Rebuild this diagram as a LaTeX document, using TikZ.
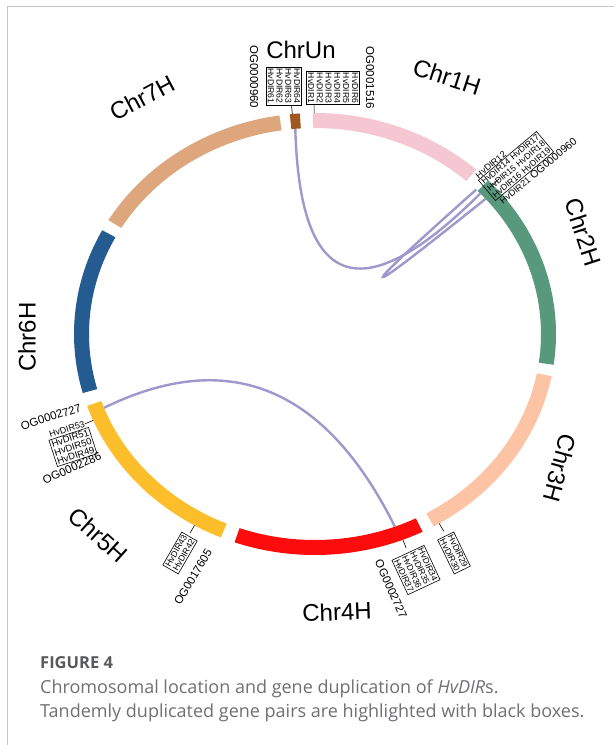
\documentclass[tikz,border=0pt]{standalone}
\usepackage{fontspec}
\setmainfont{Liberation Sans}
\newfontfamily\capfont{Open Sans}
\definecolor{cA}{RGB}{244,199,211}
\definecolor{cB}{RGB}{88,152,125}
\definecolor{cC}{RGB}{252,196,164}
\definecolor{cD}{RGB}{252,12,12}
\definecolor{cE}{RGB}{253,190,44}
\definecolor{cF}{RGB}{36,92,146}
\definecolor{cG}{RGB}{222,166,124}
\definecolor{cU}{RGB}{160,88,30}
\definecolor{lk}{RGB}{158,152,204}
\definecolor{capgray}{RGB}{112,112,116}
\definecolor{capdark}{RGB}{88,89,91}
\newcommand\chrseg[3]{\fill[#3] (#1:241 and 221) arc[start angle=#1,end angle=#2,x radius=241,y radius=221] -- (#2:226 and 206) arc[start angle=#2,end angle=#1,x radius=226,y radius=206] -- cycle;}
\newcommand\tickat[2]{\coordinate (#1a) at (#2:241 and 221); \coordinate (#1b) at (#2:250 and 230); \draw[line width=0.6pt] (#1a) -- (#1b);}
\tikzset{
  gl/.style={font=\fontsize{9}{9}\selectfont, inner sep=0pt},
  og/.style={font=\fontsize{11.5}{12}\selectfont, inner sep=0pt},
  gbox/.style={draw, line width=0.6pt, align=left, inner sep=1.5pt, font=\fontsize{8.6}{8.8}\selectfont},
  chrl/.style={font=\fontsize{24}{24}\selectfont, inner sep=0pt},
  link/.style={draw=lk, line width=2.4pt},
}
\begin{document}
\begin{tikzpicture}[x=1pt,y=-1pt]
\useasboundingbox (0,0) rectangle (614,745);
\fill[white] (0,0) rectangle (614,745);
\draw[black!22, line width=1pt] (7,745) -- (7,6) -- (614,6);
% ring
\begin{scope}[shift={(315,334)}, y=1pt]
  \chrseg{48}{90.5}{cA}
  \chrseg{93.6}{96}{cU}
  \chrseg{98.5}{149}{cG}
  \chrseg{152}{195.5}{cF}
  \chrseg{199}{247}{cE}
  \chrseg{250.5}{296.5}{cD}
  \chrseg{299.5}{349}{cC}
  \chrseg{352}{404}{cB}
  \tickat{tA}{95.4}
  \tickat{tB}{90.2}
  \tickat{tC}{42.5}
  \tickat{tD}{-59}
  \tickat{tE}{-68.6}
  \tickat{tF}{240}
  \tickat{tG}{203}
  \coordinate (eUn) at (95:226 and 206);
  \coordinate (e2a) at (43:226 and 206);
  \coordinate (e2b) at (44.5:226 and 206);
  \coordinate (e2c) at (41:226 and 206);
  \coordinate (e5) at (201:226 and 206);
  \coordinate (e4) at (-69.3:226 and 206);
\end{scope}
% links
\draw[link] (eUn) .. controls (299.7,290.3) and (361.4,311.8) .. (e2a);
\draw[link] (e2b) .. controls (348.8,303) and (351.9,306.1) .. (e2c);
\draw[link] (e5) .. controls (228.4,347.1) and (325.3,386.7) .. (e4);
% chromosome labels
\node[chrl] (lUn) at (301,50) {ChrUn};
\node[chrl, rotate=-18] (l1) at (447,77) {Chr1H};
\node[chrl, rotate=-72] (l2) at (583,232) {Chr2H};
\node[chrl, rotate=-105] (l3) at (560,468) {Chr3H};
\node[chrl, rotate=2] (l4) at (337,612) {Chr4H};
\node[chrl, rotate=-42] (l5) at (98,535) {Chr5H};
\node[chrl, rotate=90] (l6) at (27,337) {Chr6H};
\node[chrl, rotate=28] (l7) at (142,98) {Chr7H};
% gene labels: ChrUn / Chr1H
\node[gbox, rotate=-90] (bA) at (284,86) {HvDIR64\\HvDIR63\\HvDIR62\\HvDIR61};
\node[og, rotate=-90] (oA) at (254,77) {OG0000960};
\node[gbox, rotate=-90] (bB) at (333,88) {HvDIR6\\HvDIR5\\HvDIR4\\HvDIR3\\HvDIR2\\HvDIR1};
\node[og, rotate=-90] (oB) at (370,78) {OG0001516};
% Chr2H
\begin{scope}[shift={(516,166)}, rotate=40, y=1pt]
  \node[gbox, transform shape] (bC) at (0,0) {HvDIR14\hspace{3pt}HvDIR17\\HvDIR15\hspace{3pt}HvDIR18\\HvDIR16\hspace{3pt}HvDIR19};
  \node[gl, transform shape, anchor=west] (gC1) at (-37,17) {HvDIR12};
  \node[og, transform shape, anchor=west] (gC2) at (-35,-18) {{\fontsize{9}{9}\selectfont HvDIR21} {\fontsize{10.5}{11}\selectfont OG0000960}};
\end{scope}
% Chr3H / Chr4H
\node[gbox, rotate=-64] (bD) at (454,553) {HvDIR29\\HvDIR30};
\node[gbox, rotate=-65] (bE) at (416,570) {HvDIR34\\HvDIR35\\HvDIR36\\HvDIR37};
\node[og, rotate=-66] (oE) at (391,589) {OG0002727};
% Chr5H
\node[gbox, rotate=60] (bF) at (180,553) {HvDIR43\\HvDIR42};
\node[og, rotate=59] (oF) at (193,577) {OG0017605};
\node[og, rotate=18] (oG1) at (51,417) {OG0002727};
\node[gl, rotate=17] (gG) at (67,429) {HvDIR53};
\node[gbox, rotate=18, font=\fontsize{9.5}{9}\selectfont] (bG) at (73,447) {HvDIR51\\HvDIR50\\HvDIR49};
\node[og, rotate=24] (oG2) at (72,468) {OG0002286};
% caption
\node[anchor=base west, inner sep=0pt, text=capdark, font=\capfont\fontsize{16.5}{18}\selectfont\bfseries] (cap0) at (40,668) {FIGURE 4};
\node[anchor=base west, inner sep=0pt, text=capgray, font=\capfont\fontsize{18}{20}\selectfont] (cap1) at (40,693) {Chromosomal location and gene duplication of \textit{HvDIR}s.};
\node[anchor=base west, inner sep=0pt, text=capgray, font=\capfont\fontsize{18}{20}\selectfont] (cap2) at (40,717) {Tandemly duplicated gene pairs are highlighted with black boxes.};
\end{tikzpicture}
\end{document}
